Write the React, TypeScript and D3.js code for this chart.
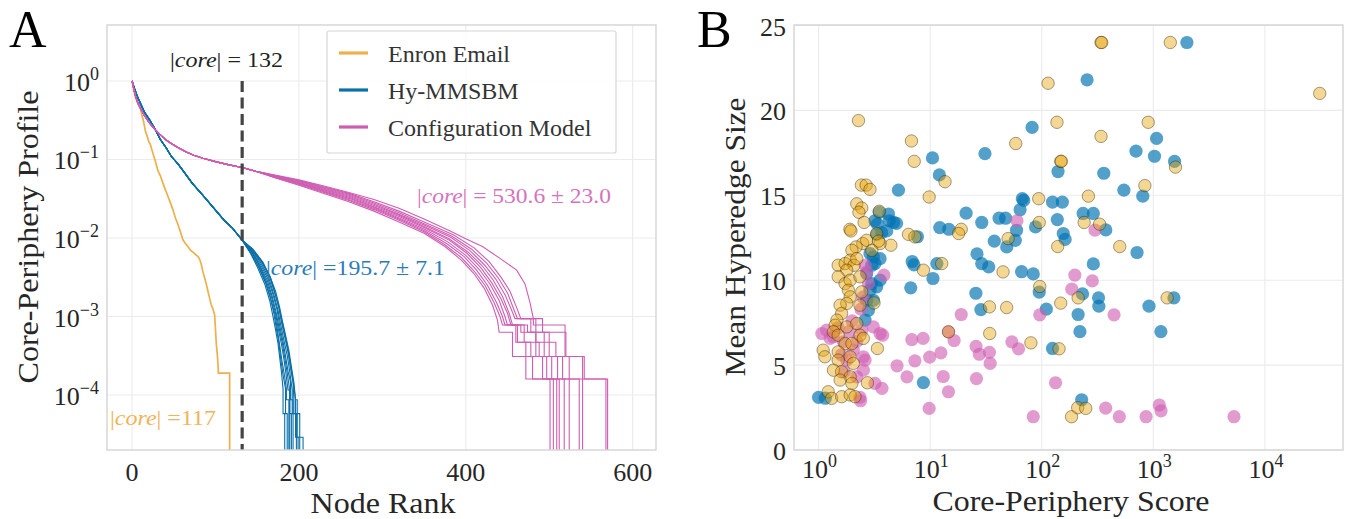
import { useEffect, useRef } from "react";
import * as d3 from "d3";

type Pt = [number, number];

// ---- panel A: core-periphery profiles (node rank, profile value) ----
const enronProfile: Pt[] = [
  [0, 1], [2, 0.78], [4, 0.62], [6, 0.55], [8, 0.5], [10, 0.45], [12, 0.36], [14, 0.3],
  [16, 0.23], [18, 0.2], [20, 0.17], [22, 0.155], [25, 0.12], [28, 0.095], [31, 0.072],
  [34, 0.062], [37, 0.05], [40, 0.041], [43, 0.034], [46, 0.028], [49, 0.023], [52, 0.018],
  [55, 0.015], [58, 0.012], [61, 0.0095], [64, 0.0085], [67, 0.0078], [70, 0.007],
  [73, 0.0066], [76, 0.0062], [79, 0.0058], [81, 0.0054], [83, 0.0046], [85, 0.0037],
  [87, 0.0031], [89, 0.0026], [91, 0.0021], [93, 0.0017], [95, 0.0014], [97, 0.00125],
  [99, 0.00105], [100, 0.0007], [101, 0.00045], [102, 0.00035], [103, 0.00025],
  [103.5, 0.00019], [117, 0.00019], [117, 1e-9],
];

const hyHead: Pt[] = [
  [0, 1], [3, 0.8], [6, 0.65], [10, 0.52], [15, 0.4], [21, 0.32], [27, 0.25], [34, 0.18],
  [41, 0.14], [47, 0.11], [55, 0.088], [62, 0.07], [72, 0.05], [85, 0.035], [98, 0.024],
  [110, 0.017], [120, 0.0135], [132, 0.0094],
];

const hyTails: Pt[][] = [
  [[142, 0.0064], [151, 0.0041], [159, 0.0026], [165, 0.0016], [169, 0.001], [172, 0.00068], [175, 0.00045], [177, 0.0003], [179, 0.0002], [181, 0.00012], [181, 0.000058], [183, 0.000058], [183, 1e-9]],
  [[142, 0.0065], [152, 0.0042], [160, 0.0027], [166, 0.0017], [170, 0.0011], [173, 0.0007], [176, 0.00046], [178, 0.0003], [181, 0.00018], [184, 0.00012], [184, 0.000058], [186, 0.000058], [186, 1e-9]],
  [[142, 0.0066], [152, 0.0043], [160, 0.0028], [166, 0.0017], [171, 0.0011], [174, 0.0007], [177, 0.00043], [180, 0.00026], [183, 0.00017], [185, 0.00012], [185, 0.000087], [188, 0.000087], [188, 1e-9]],
  [[143, 0.0067], [153, 0.0044], [161, 0.0028], [167, 0.0018], [172, 0.0011], [175, 0.00072], [179, 0.00045], [182, 0.00029], [185, 0.00017], [187, 0.000116], [189, 0.000116], [189, 1e-9]],
  [[143, 0.0068], [153, 0.0045], [162, 0.0029], [168, 0.0018], [173, 0.0011], [176, 0.00074], [180, 0.00047], [183, 0.0003], [186, 0.00019], [189, 0.000116], [189, 0.000058], [191, 0.000058], [191, 1e-9]],
  [[143, 0.0069], [154, 0.0046], [163, 0.003], [169, 0.0019], [174, 0.0012], [177, 0.00076], [181, 0.00048], [184, 0.00031], [187, 0.0002], [190, 0.000145], [190, 0.000087], [193, 0.000087], [193, 1e-9]],
  [[144, 0.007], [155, 0.0047], [164, 0.0031], [170, 0.0019], [175, 0.0012], [178, 0.0008], [182, 0.0005], [186, 0.00032], [189, 0.0002], [192, 0.000116], [192, 0.000058], [197, 0.000058], [197, 1e-9]],
  [[144, 0.0071], [156, 0.0048], [165, 0.0032], [171, 0.002], [176, 0.0013], [179, 0.00085], [183, 0.00055], [187, 0.00035], [190, 0.00022], [193, 0.000145], [194, 0.000087], [194, 0.000058], [201, 0.000058], [201, 1e-9]],
  [[144, 0.0072], [156, 0.0049], [165, 0.0033], [172, 0.0021], [177, 0.0013], [180, 0.0009], [184, 0.00058], [188, 0.00037], [191, 0.00023], [194, 0.000145], [196, 0.000087], [196, 0.000029], [199, 0.000029], [199, 1e-9]],
  [[145, 0.0072], [157, 0.0049], [166, 0.0031], [172, 0.0019], [176, 0.0013], [179, 0.00095], [183, 0.0006], [187, 0.00038], [190, 0.00024], [193, 0.00015], [196, 0.000087], [198, 0.000087], [198, 0.000029], [205, 0.000029], [205, 1e-9]],
];

const cmHead: Pt[] = [
  [0, 1], [2, 0.8], [4, 0.65], [7, 0.52], [11, 0.43], [15, 0.36], [20, 0.3], [26, 0.25],
  [33, 0.21], [40, 0.18], [47, 0.16], [56, 0.14], [65, 0.125], [74, 0.113], [85, 0.104],
  [100, 0.094], [115, 0.086], [132, 0.079], [150, 0.07],
];

const cmTails: Pt[][] = [
  [[170, 0.059], [200, 0.047], [230, 0.037], [260, 0.029], [290, 0.022], [320, 0.016], [350, 0.0115], [375, 0.0078], [395, 0.0052], [410, 0.0035], [422, 0.0023], [432, 0.0014], [438, 0.0009], [440, 0.00063], [456, 0.00063], [456, 0.00031], [480, 0.00031], [480, 0.00016], [501, 0.00016], [501, 1e-9]],
  [[170, 0.06], [200, 0.048], [230, 0.038], [260, 0.03], [290, 0.023], [320, 0.0168], [350, 0.012], [375, 0.0082], [395, 0.0056], [410, 0.0038], [423, 0.0025], [434, 0.0015], [441, 0.001], [444, 0.00078], [460, 0.00078], [460, 0.00047], [472, 0.00047], [472, 0.00016], [505, 0.00016], [505, 1e-9]],
  [[170, 0.06], [200, 0.049], [230, 0.039], [260, 0.031], [290, 0.0238], [320, 0.0175], [350, 0.0125], [377, 0.0085], [398, 0.0058], [413, 0.0039], [426, 0.0025], [437, 0.0015], [444, 0.001], [447, 0.00078], [462, 0.00078], [462, 0.00047], [478, 0.00047], [478, 0.00031], [492, 0.00031], [492, 0.00016], [509, 0.00016], [509, 1e-9]],
  [[170, 0.061], [200, 0.05], [230, 0.04], [260, 0.032], [290, 0.0245], [320, 0.018], [350, 0.013], [378, 0.009], [400, 0.006], [416, 0.004], [429, 0.0026], [440, 0.0016], [447, 0.001], [450, 0.00078], [466, 0.00078], [466, 0.00063], [484, 0.00063], [484, 0.00031], [497, 0.00031], [497, 0.00016], [512, 0.00016], [512, 1e-9]],
  [[170, 0.061], [200, 0.05], [230, 0.041], [260, 0.033], [290, 0.025], [320, 0.0188], [350, 0.0136], [380, 0.0094], [402, 0.0063], [418, 0.0042], [431, 0.0027], [442, 0.0017], [450, 0.0011], [454, 0.00078], [470, 0.00078], [470, 0.00047], [488, 0.00047], [488, 0.00031], [503, 0.00031], [503, 0.00016], [518, 0.00016], [518, 1e-9]],
  [[170, 0.062], [200, 0.051], [230, 0.042], [260, 0.034], [290, 0.026], [320, 0.0195], [350, 0.014], [380, 0.0098], [403, 0.0066], [420, 0.0044], [433, 0.0029], [444, 0.0018], [452, 0.0011], [456, 0.00078], [474, 0.00078], [474, 0.00063], [494, 0.00063], [494, 0.00031], [510, 0.00031], [510, 0.00016], [524, 0.00016], [524, 1e-9]],
  [[170, 0.062], [200, 0.052], [230, 0.043], [260, 0.035], [290, 0.027], [320, 0.02], [350, 0.0146], [382, 0.0102], [405, 0.0069], [422, 0.0046], [436, 0.003], [447, 0.0019], [455, 0.0012], [459, 0.00094], [478, 0.00094], [478, 0.00063], [500, 0.00063], [500, 0.00031], [516, 0.00031], [516, 0.00016], [536, 0.00016], [536, 1e-9]],
  [[170, 0.063], [200, 0.053], [230, 0.044], [260, 0.036], [290, 0.028], [320, 0.021], [350, 0.0152], [383, 0.0106], [407, 0.0072], [425, 0.0048], [439, 0.0031], [450, 0.002], [458, 0.0012], [462, 0.00094], [484, 0.00094], [484, 0.00047], [508, 0.00047], [508, 0.00031], [524, 0.00031], [524, 0.00016], [540, 0.00016], [540, 1e-9]],
  [[170, 0.063], [200, 0.054], [230, 0.045], [260, 0.037], [290, 0.029], [320, 0.022], [350, 0.016], [385, 0.011], [410, 0.0075], [428, 0.005], [442, 0.0032], [453, 0.0021], [461, 0.0013], [466, 0.00094], [492, 0.00094], [492, 0.00063], [520, 0.00063], [520, 0.00031], [540, 0.00031], [540, 0.00016], [568, 0.00016], [568, 1e-9]],
  [[170, 0.064], [200, 0.055], [230, 0.046], [260, 0.038], [290, 0.031], [320, 0.024], [350, 0.0175], [380, 0.0125], [400, 0.0098], [420, 0.0078], [441, 0.0055], [461, 0.0039], [471, 0.0026], [477, 0.0015], [481, 0.00094], [481, 0.00078], [519, 0.00078], [519, 0.00031], [542, 0.00031], [542, 0.00016], [570, 0.00016], [570, 1e-9]],
];

// ---- panel B: (core-periphery score, mean hyperedge size) ----
const hyScatter: Pt[] = [
  [1.0, 3.1], [1.15, 3.05], [5.2, 15.3], [10.5, 17.2], [12.1, 16.2], [31, 17.45], [82, 19.0],
  [140, 16.4], [67, 14.8], [69, 14.7], [125, 14.6], [153, 14.6], [21, 13.95], [29, 13.4],
  [41.5, 13.65], [47.5, 13.65], [64, 14.15], [138, 13.57], [59.5, 12.94], [58, 12.35],
  [12.2, 13.1], [14.7, 13.0], [37.6, 12.3], [48.6, 11.96], [156, 12.75], [162, 12.4], [88, 13.14],
  [3.2, 13.5], [3.37, 13.3], [4.3, 13.5], [4.7, 13.4], [5.0, 13.35], [4.24, 13.9], [3.68, 12.8],
  [4.08, 12.9], [3.32, 12.7], [3.5, 14.0],
  [2000, 24], [255, 21.8], [1070, 18.35], [700, 17.6], [1025, 17.3], [1550, 17.0], [360, 16.3],
  [545, 15.3], [805, 14.95], [235, 13.93], [290, 13.93], [375, 12.96],
  [715, 11.63], [290, 10.96], [232, 9.19], [323, 8.96], [325, 8.47], [1530, 8.96], [915, 8.47],
  [110, 8.3], [212, 7.98], [1170, 6.97], [220, 6.97], [125, 5.98], [228, 2.96],
  [6.7, 9.55], [8.7, 3.97], [10.6, 10.1], [6.9, 11.1], [7.17, 10.9], [11.5, 10.98], [25.7, 9.23],
  [28.5, 8.27], [26.3, 11.55], [29, 10.98], [33.5, 10.78], [66, 10.5], [84, 10.37], [95, 9.3],
  [7.7, 12.56],
  [2.89, 11.57], [3.2, 10.98], [3.56, 11.27], [2.7, 10.39], [3.0, 9.8], [3.1, 8.82], [2.8, 8.23],
  [2.61, 7.65], [3.1, 11.37], [3.0, 10.88], [3.56, 10.0], [3.32, 9.61], [2.89, 9.41], [2.7, 8.82],
];

const cmScatter: Pt[] = [
  [60, 13.5], [300, 12.95], [198, 10.3], [284, 9.96], [186, 9.47], [445, 7.96], [96, 7.96],
  [133, 3.96], [374, 2.47], [496, 1.96], [861, 1.96], [1132, 2.65], [1173, 2.31], [5285, 1.96],
  [84, 1.96],
  [3.85, 10.3], [19, 7.98], [6.85, 6.5], [8.65, 6.57], [5.05, 4.96], [6.2, 4.31], [7.3, 5.25],
  [9.9, 5.47], [12.5, 5.72], [16.4, 6.45], [13.1, 4.33], [14.6, 3.43], [9.8, 2.45], [26, 4.2],
  [25.8, 6.1], [27.6, 5.64], [34, 5.75], [34.5, 5.1], [54, 6.37], [62, 5.96], [14.6, 6.96],
  [1.07, 6.86], [1.18, 7.06], [1.27, 6.57], [3.1, 7.25], [3.56, 6.86], [3.75, 6.76], [3.2, 3.92],
  [3.7, 3.63], [2.38, 2.9], [2.61, 5.29], [2.52, 4.7], [2.61, 10.88], [2.7, 10.49], [2.8, 9.8],
  [2.52, 5.49], [2.35, 3.1], [1.36, 6.67], [1.67, 6.37], [2.05, 5.88], [1.79, 5.29], [2.2, 4.31],
  [2.44, 7.06], [1.5, 7.2], [1.9, 7.0], [2.2, 6.4], [1.6, 5.6], [2.4, 8.3], [2.5, 9.0],
  [1.7, 4.6], [2.0, 7.6],
];

const enronScatter: Pt[] = [
  [114, 21.6], [2.28, 19.4], [137, 19.3], [6.8, 18.2], [58.5, 18.05], [7.2, 17.0], [148, 17.0],
  [150, 17.0], [13.6, 15.8], [2.42, 15.6], [2.67, 15.6], [2.89, 15.35], [9.8, 14.9], [94, 14.8],
  [2.2, 14.5], [2.44, 14.25], [2.3, 14.0], [2.56, 13.4], [3.5, 14.06], [1.91, 13.0], [1.95, 12.9],
  [6.4, 12.7], [7.3, 12.55], [19, 13.0], [18, 12.75], [50, 12.45], [95, 13.4],
  [340, 24], [345, 24], [1420, 24], [31000, 21], [900, 19.3], [340, 18.47], [1580, 16.66],
  [840, 15.57], [262, 14.95], [240, 13.4], [330, 13.3], [139, 11.98], [500, 11.98], [96, 9.63],
  [148, 8.65], [212, 8.96], [1330, 8.96], [143, 5.96], [185, 1.96], [210, 2.49], [248, 2.45],
  [8.7, 10.59], [12.7, 10.98], [34, 8.43], [48.5, 8.39], [34.2, 6.86], [80, 6.31], [14.6, 6.96],
  [45, 10.49], [3.37, 5.98], [2.74, 3.96],
  [2.49, 12.16], [2.7, 12.35], [4.45, 12.06], [3.56, 12.16], [3.32, 12.74], [3.44, 12.3],
  [3.0, 11.76], [2.17, 11.96], [1.99, 11.76],
  [1.5, 10.88], [1.73, 10.98], [1.92, 11.18], [2.08, 10.88], [1.79, 10.59], [2.2, 11.27],
  [1.5, 10.2], [1.73, 9.8], [1.92, 10.0], [2.35, 10.2], [1.85, 9.41], [1.92, 9.02], [1.79, 8.63],
  [1.56, 8.53], [2.44, 9.31], [1.61, 8.04], [1.46, 7.65], [2.35, 8.53], [3.14, 8.66],
  [1.41, 7.35], [1.36, 6.96], [1.79, 7.25], [1.5, 6.76], [2.2, 7.45], [2.35, 6.76], [2.52, 6.57],
  [1.73, 6.27], [1.1, 5.88], [1.14, 5.49], [1.5, 5.78], [1.99, 6.27], [1.92, 5.49], [2.05, 5.1],
  [1.5, 5.29], [1.36, 4.7], [1.61, 4.61], [1.92, 4.31], [1.56, 4.12], [1.99, 3.92],
  [1.22, 3.43], [1.31, 3.04], [1.61, 3.14], [1.92, 3.24], [2.12, 3.14],
];

const rankTicks = [0, 200, 400, 600];
const profileExps = [0, -1, -2, -3, -4];
const scoreExps = [0, 1, 2, 3, 4];
const sizeTicks = [0, 5, 10, 15, 20, 25];
const legendLabels = ["Enron Email", "Hy-MMSBM", "Configuration Model"];
const coreEnron = 117;
const coreCut = 132;

const ORANGE = "#EDB04A";
const BLUE = "#0B6FA8";
const PINK = "#CE5DB2";
const FONT = "'Liberation Serif', 'Times New Roman', serif";
const INK = "#262626";
const GRID = "#ebebeb";
const SPINE = "#d4d4d4";

const sup = (e: number) => (e < 0 ? "\u2212" + Math.abs(e) : String(e));

const App = () => {
  const ref = useRef<SVGSVGElement>(null);

  useEffect(() => {
    const svg = d3.select(ref.current);
    svg.selectAll("*").remove();

    // text helper: parts with optional italics
    const label = (
      g: any,
      x: number,
      y: number,
      parts: [string, boolean][],
      opts: { size: number; color?: string; anchor?: string; len?: number; rotate?: boolean }
    ) => {
      const t = g
        .append("text")
        .attr("x", x)
        .attr("y", y)
        .attr("font-family", FONT)
        .attr("font-size", opts.size)
        .attr("fill", opts.color || INK)
        .attr("text-anchor", opts.anchor || "start");
      if (opts.len) t.attr("textLength", opts.len).attr("lengthAdjust", "spacingAndGlyphs");
      if (opts.rotate) t.attr("transform", `rotate(-90, ${x}, ${y})`);
      parts.forEach(([s, it]) => {
        t.append("tspan").attr("font-style", it ? "italic" : "normal").text(s);
      });
      return t;
    };

    // ================= Panel A =================
    const xA = d3.scaleLinear().domain([-30, 628]).range([107, 656]);
    const yA = d3.scaleLog().domain([Math.pow(10, -4.7), Math.pow(10, 0.713)]).range([450, 25]);
    const gA = svg.append("g");

    gA.append("defs").append("clipPath").attr("id", "clipA")
      .append("rect").attr("x", 107).attr("y", 25).attr("width", 549).attr("height", 425);

    gA.selectAll(".gx").data(rankTicks).enter().append("line")
      .attr("x1", (d) => xA(d)).attr("x2", (d) => xA(d)).attr("y1", 25).attr("y2", 450)
      .attr("stroke", GRID).attr("stroke-width", 1.1);
    gA.selectAll(".gy").data(profileExps).enter().append("line")
      .attr("y1", (d) => yA(Math.pow(10, d))).attr("y2", (d) => yA(Math.pow(10, d)))
      .attr("x1", 107).attr("x2", 656)
      .attr("stroke", GRID).attr("stroke-width", 1.1);

    const lineA = d3.line<Pt>()
      .x((d) => xA(d[0]))
      .y((d) => yA(Math.max(d[1], 1e-8)));

    const plotA = gA.append("g").attr("clip-path", "url(#clipA)");
    plotA.append("path").attr("d", lineA(enronProfile)).attr("fill", "none")
      .attr("stroke", ORANGE).attr("stroke-width", 1.7);
    hyTails.forEach((tail) => {
      plotA.append("path").attr("d", lineA(hyHead.concat(tail))).attr("fill", "none")
        .attr("stroke", BLUE).attr("stroke-width", 1.1);
    });
    cmTails.forEach((tail) => {
      plotA.append("path").attr("d", lineA(cmHead.concat(tail))).attr("fill", "none")
        .attr("stroke", PINK).attr("stroke-width", 1.1);
    });
    plotA.append("line")
      .attr("x1", xA(coreCut)).attr("x2", xA(coreCut))
      .attr("y1", yA(1)).attr("y2", 450)
      .attr("stroke", "#444").attr("stroke-width", 3.2).attr("stroke-dasharray", "11,5.5");

    gA.append("rect").attr("x", 107).attr("y", 25).attr("width", 549).attr("height", 425)
      .attr("fill", "none").attr("stroke", SPINE).attr("stroke-width", 1.4);

    // ticks
    rankTicks.forEach((v) => {
      label(gA, xA(v), 481, [[String(v), false]], { size: 26, anchor: "middle" });
    });
    profileExps.forEach((e) => {
      const t = gA.append("text")
        .attr("x", 99).attr("y", yA(Math.pow(10, e)) + 10)
        .attr("font-family", FONT).attr("font-size", 26).attr("fill", INK)
        .attr("text-anchor", "end");
      t.append("tspan").text("10");
      t.append("tspan").attr("font-size", 18).attr("dy", -11).text(sup(e));
    });

    label(gA, 383, 513, [["Node Rank", false]], { size: 30, anchor: "middle", len: 145 });
    label(gA, 38, 237, [["Core-Periphery Profile", false]], { size: 30, anchor: "middle", len: 293, rotate: true });
    label(gA, 9, 47, [["A", false]], { size: 52, color: "#000" });

    // annotations
    label(gA, 170, 67, [["|", false], ["core", true], ["| = " + coreCut, false]], { size: 21, color: "#222", len: 113 });
    label(gA, 266, 275, [["|", false], ["core", true], ["| =195.7 \u00b1 7.1", false]], { size: 22, color: "#2b7bb9", len: 179 });
    label(gA, 417, 203, [["|", false], ["core", true], ["| = 530.6 \u00b1 23.0", false]], { size: 22, color: "#d772bd", len: 194 });
    label(gA, 110, 425, [["|", false], ["core", true], ["| =" + coreEnron, false]], { size: 22, color: "#f0b457", len: 106 });

    // legend
    const leg = gA.append("g");
    leg.append("rect").attr("x", 327).attr("y", 31).attr("width", 289).attr("height", 122)
      .attr("rx", 2).attr("fill", "#fff").attr("fill-opacity", 0.85)
      .attr("stroke", "#d6d6d6").attr("stroke-width", 1.2);
    [ORANGE, BLUE, PINK].forEach((c, i) => {
      const yy = 53 + i * 37;
      leg.append("line").attr("x1", 339).attr("x2", 368).attr("y1", yy).attr("y2", yy)
        .attr("stroke", c).attr("stroke-width", 3.2);
      label(leg, 388, yy + 9, [[legendLabels[i], false]], { size: 24, color: "#333" });
    });

    // ================= Panel B =================
    const xB = d3.scaleLog().domain([Math.pow(10, -0.22), Math.pow(10, 4.7)]).range([794, 1343]);
    const yB = d3.scaleLinear().domain([0, 25]).range([450, 25.5]);
    const gB = svg.append("g");

    gB.selectAll(".gx").data(scoreExps).enter().append("line")
      .attr("x1", (d) => xB(Math.pow(10, d))).attr("x2", (d) => xB(Math.pow(10, d)))
      .attr("y1", 25).attr("y2", 450).attr("stroke", GRID).attr("stroke-width", 1.1);
    gB.selectAll(".gy").data(sizeTicks).enter().append("line")
      .attr("y1", (d) => yB(d)).attr("y2", (d) => yB(d)).attr("x1", 794).attr("x2", 1343)
      .attr("stroke", GRID).attr("stroke-width", 1.1);

    const R = 6.6;
    gB.append("g").selectAll("circle").data(hyScatter).enter().append("circle")
      .attr("cx", (d) => xB(d[0])).attr("cy", (d) => yB(d[1])).attr("r", R)
      .attr("fill", "#0173B2").attr("fill-opacity", 0.68);
    gB.append("g").selectAll("circle").data(cmScatter).enter().append("circle")
      .attr("cx", (d) => xB(d[0])).attr("cy", (d) => yB(d[1])).attr("r", R)
      .attr("fill", PINK).attr("fill-opacity", 0.62);
    gB.append("g").selectAll("circle").data(enronScatter).enter().append("circle")
      .attr("cx", (d) => xB(d[0])).attr("cy", (d) => yB(d[1])).attr("r", R - 0.4)
      .attr("fill", "#E69F00").attr("fill-opacity", 0.42)
      .attr("stroke", "#2a1e00").attr("stroke-opacity", 0.42).attr("stroke-width", 1);

    gB.append("rect").attr("x", 794).attr("y", 25).attr("width", 549).attr("height", 425)
      .attr("fill", "none").attr("stroke", SPINE).attr("stroke-width", 1.4);

    scoreExps.forEach((e) => {
      const t = gB.append("text")
        .attr("x", xB(Math.pow(10, e)) + 1).attr("y", 478)
        .attr("font-family", FONT).attr("font-size", 26).attr("fill", INK)
        .attr("text-anchor", "middle");
      t.append("tspan").text("10");
      t.append("tspan").attr("font-size", 18).attr("dy", -11).text(sup(e));
    });
    sizeTicks.forEach((v) => {
      label(gB, 786, yB(v) + 10, [[String(v), false]], { size: 26, anchor: "end" });
    });

    label(gB, 1071, 511, [["Core-Periphery Score", false]], { size: 30, anchor: "middle", len: 277 });
    label(gB, 745, 237, [["Mean Hyperedge Size", false]], { size: 30, anchor: "middle", len: 279, rotate: true });
    label(gB, 697, 47, [["B", false]], { size: 52, color: "#000" });
  }, []);

  return (
    <div style={{ position: "absolute", left: 0, top: 0, width: 1349, height: 519, background: "#fff" }}>
      <svg ref={ref} width={1349} height={519} style={{ display: "block" }} />
    </div>
  );
};

export default App;
